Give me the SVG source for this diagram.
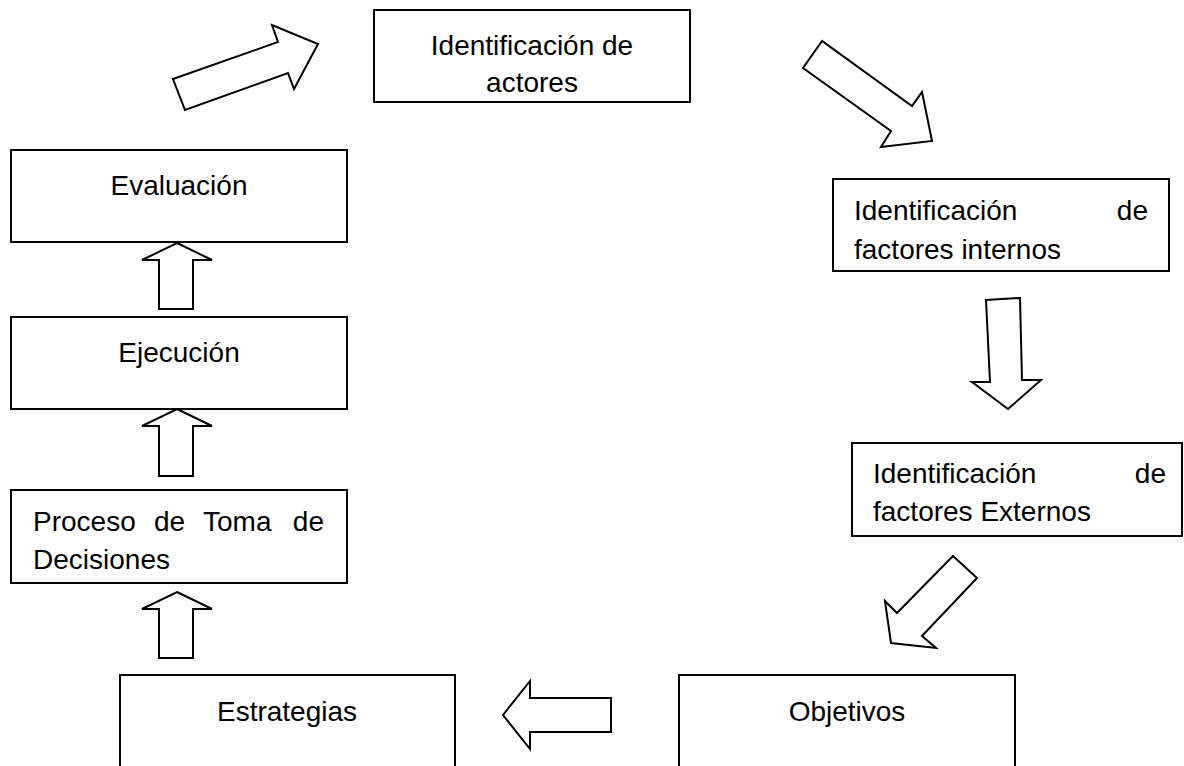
<svg xmlns="http://www.w3.org/2000/svg" width="1184" height="766" viewBox="0 0 1184 766">
<style>
.box{fill:#fff;stroke:#000;stroke-width:2}
.arr{fill:#fff;stroke:#000;stroke-width:2;stroke-linejoin:miter}
text{font-family:"Liberation Sans",Arial,sans-serif;font-size:28px;fill:#000}
.c{text-anchor:middle}
.e{text-anchor:end}
</style>
<rect width="1184" height="766" fill="#fff"/>
<g id="connectors">
<polygon class="arr" points="173,79 278,42 272,25 318,44 294,89 288,73 185,110"/>
<polygon class="arr" points="822,41 803,68 891,131 881,147 932,141 922,92 912,106"/>
<polygon class="arr" points="986,300 1020,298 1022,380 1041,380 1008,409 972,382 990,382"/>
<polygon class="arr" points="953,556 977,578 922,636 936,648 891,643 885,601 897,613"/>
<polygon class="arr" points="503,715 530,681 530,698 611,698 611,732 530,732 530,749"/>
<polygon class="arr" points="177,592 212,609 193,609 193,658 159,658 159,609 142,609"/>
<polygon class="arr" points="177,409 212,426 193,426 193,476 159,476 159,426 142,426"/>
<polygon class="arr" points="177,243 212,260 193,260 193,309 159,309 159,260 142,260"/>
</g>
<g id="actores">
<rect class="box" x="374" y="10" width="316" height="92"/>
<text class="c" x="532" y="55">Identificación de</text>
<text class="c" x="532" y="92">actores</text>
</g>
<g id="internos">
<rect class="box" x="833" y="179" width="336" height="92"/>
<text x="854" y="220">Identificación</text>
<text class="e" x="1148" y="220">de</text>
<text x="854" y="259">factores internos</text>
</g>
<g id="externos">
<rect class="box" x="852" y="443" width="330" height="93"/>
<text x="873" y="483">Identificación</text>
<text class="e" x="1166" y="483">de</text>
<text x="873" y="521">factores Externos</text>
</g>
<g id="objetivos">
<rect class="box" x="679" y="675" width="336" height="120"/>
<text class="c" x="847" y="721">Objetivos</text>
</g>
<g id="estrategias">
<rect class="box" x="120" y="675" width="335" height="120"/>
<text class="c" x="287" y="721">Estrategias</text>
</g>
<g id="proceso">
<rect class="box" x="11" y="490" width="336" height="93"/>
<text x="33" y="531">Proceso</text>
<text x="154" y="531">de</text>
<text x="203" y="531">Toma</text>
<text class="e" x="324" y="531">de</text>
<text x="33" y="569">Decisiones</text>
</g>
<g id="ejecucion">
<rect class="box" x="11" y="317" width="336" height="92"/>
<text class="c" x="179" y="362">Ejecución</text>
</g>
<g id="evaluacion">
<rect class="box" x="11" y="150" width="336" height="92"/>
<text class="c" x="179" y="195">Evaluación</text>
</g>
</svg>
